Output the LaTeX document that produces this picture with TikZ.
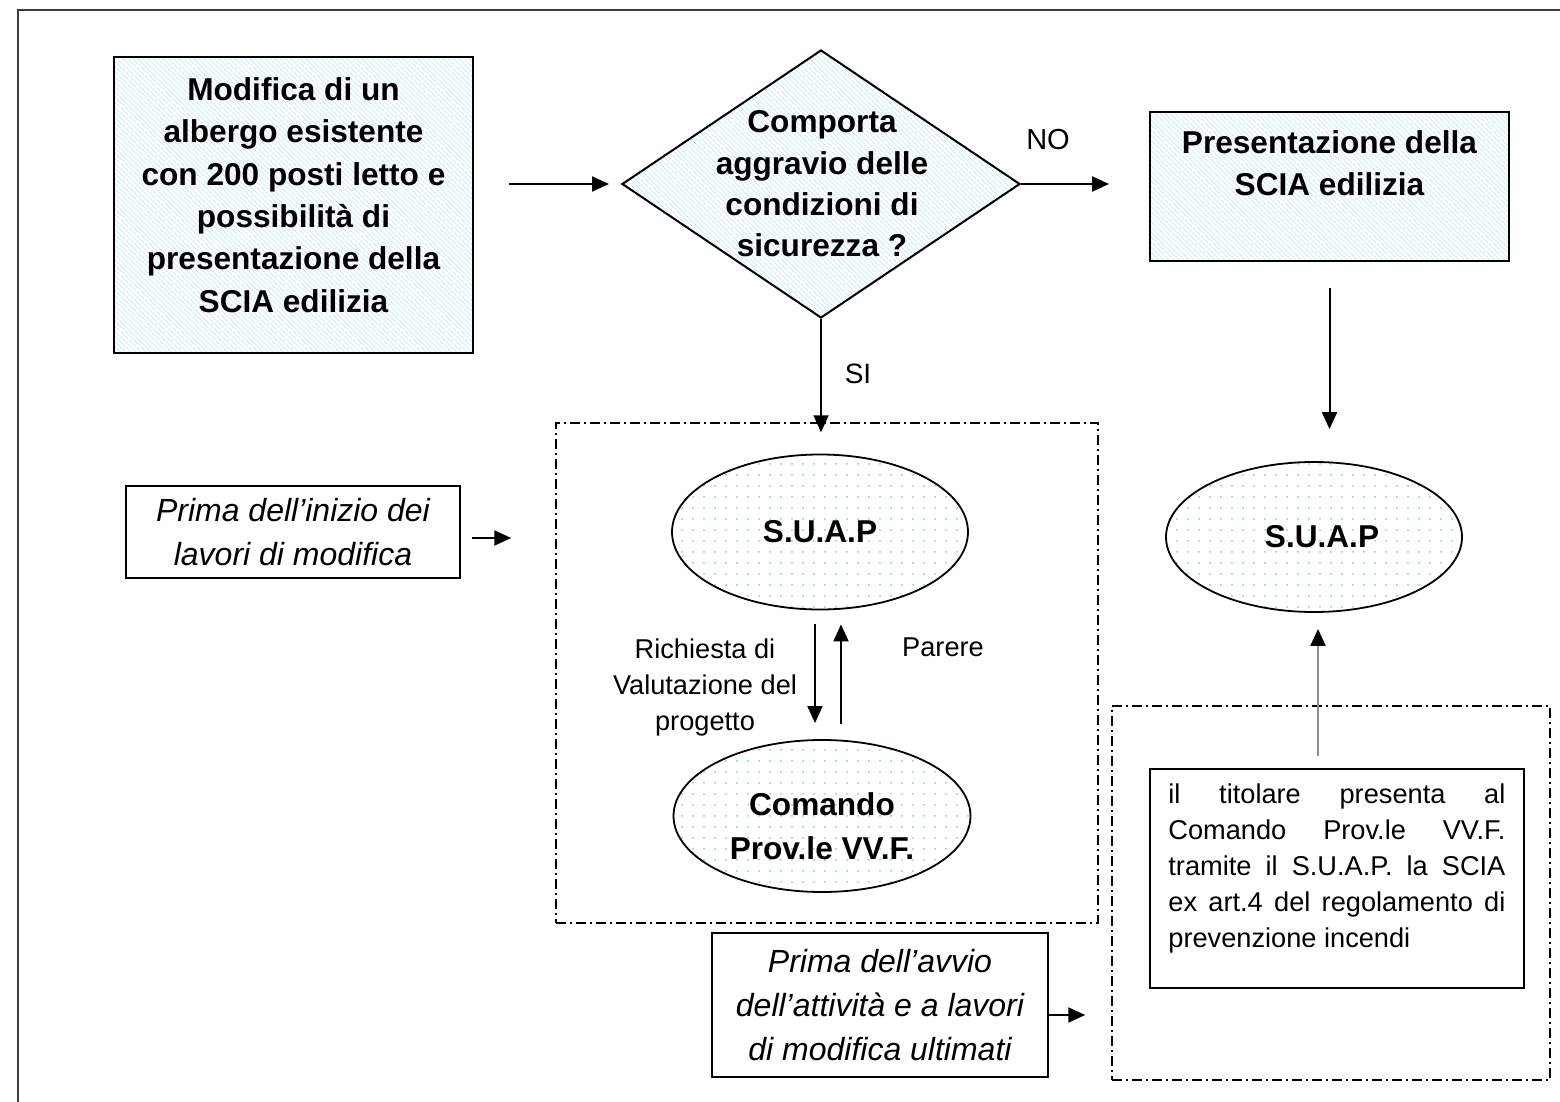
\documentclass[tikz,border=0pt]{standalone}
\usepackage{fontspec}
\setmainfont{Liberation Sans}
\usetikzlibrary{shapes.geometric,arrows.meta,patterns.meta,calc}
\definecolor{hatchc}{RGB}{212,238,241}
\definecolor{dotc}{RGB}{135,202,214}
\definecolor{framec}{RGB}{60,60,60}
\begin{document}
\begin{tikzpicture}[x=0.5pt,y=-0.5pt,
  arr/.style={-{Triangle[length=8.5pt,width=7.5pt]}, line width=1pt},
  hbox/.style={draw, line width=1pt, rectangle, inner sep=0pt,
    pattern={Lines[angle=-45,distance=1.8pt,line width=0.5pt]}, pattern color=hatchc},
  dia/.style={draw, line width=1pt, diamond, inner sep=0pt,
    pattern={Lines[angle=-45,distance=1.8pt,line width=0.5pt]}, pattern color=hatchc},
  ell/.style={draw, line width=0.9pt, ellipse, inner sep=0pt,
    pattern={Dots[distance=5.5pt,radius=0.5pt]}, pattern color=dotc},
  dbox/.style={draw, line width=0.75pt, rectangle, inner sep=0pt,
    dash pattern=on 5pt off 2pt on 1pt off 2pt},
  pbox/.style={draw, line width=1pt, rectangle, inner sep=0pt},
  btxt/.style={inner sep=0pt, align=center, font=\fontsize{15.8}{21.2}\selectfont\bfseries},
  rtxt/.style={inner sep=0pt, font=\fontsize{13.6}{18}\selectfont},
  itxt/.style={align=center, font=\fontsize{16}{21.6}\selectfont\itshape}
]
\useasboundingbox (0,0) rectangle (1560,1102);
\draw[line width=1pt, framec] (18,1102) -- (18,10) -- (1560,10);

% dashed containers
\node[dbox, minimum width=271pt, minimum height=250pt] (M) at (827,673) {};
\node[dbox, minimum width=219pt, minimum height=187pt] (R) at (1331,893) {};

% top-left box
\node[hbox, minimum width=179.5pt, minimum height=148pt] (A) at (293.5,205) {};
\node[btxt] (At) at (293.5,195) {Modifica di un\\albergo esistente\\con 200 posti letto e\\possibilità di\\presentazione della\\SCIA edilizia};

% decision
\node[dia, minimum width=199pt, minimum height=134pt] (D) at (821,184) {};
\node[btxt, font=\fontsize{15.8}{20.7}\selectfont\bfseries] (Dt) at (822,184) {Comporta\\aggravio delle\\condizioni di\\sicurezza ?};

% top-right box
\node[hbox, minimum width=179.5pt, minimum height=74.5pt] (B) at (1329.5,186.5) {};
\node[btxt] (Bt) at (1329.5,163) {Presentazione della\\SCIA edilizia};

% ellipses
\node[ell, minimum width=148pt, minimum height=77.5pt, font=\fontsize{15.8}{21}\selectfont\bfseries] (S1) at (820,532) {S.U.A.P};
\node[ell, minimum width=148.5pt, minimum height=76pt] (C1) at (822,816) {};
\node[btxt, font=\fontsize{15.8}{22}\selectfont\bfseries] (C1t) at (822,826) {Comando\\Prov.le VV.F.};
\node[ell, minimum width=148pt, minimum height=75pt] (S2) at (1314,537) {};
\node[btxt] (S2t) at (1322,537) {S.U.A.P};

% bottom-right box
\node[pbox, minimum width=187pt, minimum height=109.5pt] (C) at (1337,878.5) {};
\node[rtxt, text width=168.5pt, align=justify, anchor=north west] (Ct) at (1168,783)
 {\noindent\frenchspacing\hyphenpenalty=10000 il titolare presenta al\linebreak Comando Prov.le VV.F.\linebreak tramite il S.U.A.P. la SCIA\linebreak ex art.4 del regolamento di\linebreak prevenzione incendi};

% italic boxes
\node[pbox, itxt, minimum width=167pt, minimum height=46pt] (P1) at (293,532) {Prima dell’inizio dei\\lavori di modifica};
\node[pbox, itxt, minimum width=168pt, minimum height=72pt, font=\fontsize{16}{21.8}\selectfont\itshape] (P2) at (880,1005) {Prima dell’avvio\\dell’attività e a lavori\\di modifica ultimati};

% labels
\node[rtxt, font=\fontsize{14.5}{18}\selectfont] (no) at (1048,140) {NO};
\node[rtxt, font=\fontsize{14}{18}\selectfont] (si) at (858,374) {SI};
\node[rtxt] (par) at (943,647) {Parere};
\node[rtxt, align=center] (ric) at (705,687) {Richiesta di\\Valutazione del\\progetto};

% helper coordinates
\coordinate (upx) at (1318,0);
\coordinate (dx) at (815,0);
\coordinate (ux) at (841,0);
\coordinate (a1) at (460,538);
\coordinate (a2) at (1048,1015);

% connectors
\draw[arr, shorten <=17.5pt, shorten >=6pt] (A.east |- D.west) -- (D.west);
\draw[arr, shorten >=20pt] (D.east) -- (D.east -| B.west);
\draw[arr, shorten >=-5pt] (D.south) -- (D.south |- M.north);
\draw[arr, shorten <=13pt, shorten >=16pt] (B.south) -- (B.south |- S2.north);
\draw[-{Triangle[length=8.5pt,width=7.5pt,color=black]}, line width=1pt, draw=black!45, shorten <=6pt, shorten >=8pt] (C.north -| upx) -- (S2.south -| upx);
\draw[arr, shorten <=7pt, shorten >=8pt] (S1.south -| dx) -- (C1.north -| dx);
\draw[arr, shorten <=7.5pt, shorten >=7pt] (C1.north -| ux) -- (S1.south -| ux);
\draw[arr, shorten <=6pt, shorten >=22pt] (a1) -- (a1 -| M.west);
\draw[arr, shorten >=13pt] (a2) -- (a2 -| R.west);
\end{tikzpicture}
\end{document}
